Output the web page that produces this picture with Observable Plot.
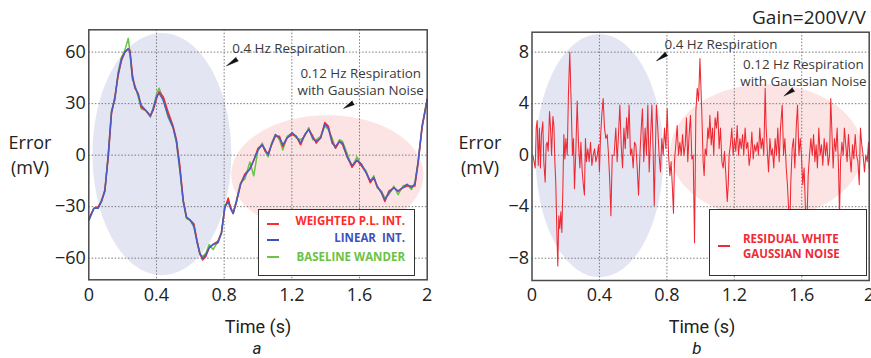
<!DOCTYPE html>
<html><head><meta charset="utf-8">
<script src="https://cdn.jsdelivr.net/npm/d3@7"></script>
<script src="https://cdn.jsdelivr.net/npm/@observablehq/plot@0.6"></script>
<style>
body{margin:0;background:#fff;}
#wrap{position:relative;width:871px;height:358px;font-family:"Open Sans",sans-serif;color:#222;overflow:hidden;background:#fff}
#wrap svg{position:absolute;top:0}
.lbl{position:absolute;white-space:nowrap;transform:translate(-50%,-50%);text-align:center;font-size:18px;line-height:18px;color:#222}
.two{line-height:25px}
.rb{font-family:Roboto,sans-serif}
.leg{position:absolute;box-sizing:border-box;border:1.5px solid #333;background:#fff}
.leg .t{position:absolute;font-weight:700;font-size:11.5px;line-height:14px;white-space:nowrap}
.leg .d{position:absolute;height:2px;width:12px}
</style></head><body><div id="wrap"></div>
<script>
// ---------- Panel a data ----------
const tA = [0,0.03,0.055,0.075,0.095,0.115,0.134,0.154,0.173,0.193,0.213,0.233,0.243,0.258,0.272,0.292,0.31,0.337,0.364,0.38,0.404,0.416,0.44,0.469,0.498,0.518,0.538,0.558,0.577,0.6,0.621,0.64,0.656,0.672,0.692,0.711,0.735,0.764,0.784,0.804,0.824,0.837,0.853,0.873,0.897,0.922,0.952,0.975,1.0,1.025,1.044,1.06,1.08,1.103,1.127,1.147,1.172,1.202,1.226,1.252,1.277,1.3,1.324,1.344,1.37,1.395,1.415,1.438,1.458,1.482,1.5,1.527,1.556,1.585,1.61,1.638,1.664,1.684,1.704,1.73,1.75,1.773,1.803,1.828,1.856,1.881,1.907,1.927,1.946,1.97,1.99,2.0];
const linearA = [-38,-31,-31,-27,-21,0,25,33,47,56,60,62,60,45,40,35,29,26,23,27,35,36,32,23,16,8,-8,-27,-36,-38,-41,-51,-57,-60,-58,-54,-52,-51,-45,-30,-27,-31,-34,-27,-17,-12,-8,-3,3,6,3,0,6,12,10,6,10,13,11,7,12,15,10,8,10,18,16,7,5,8,7,-1,-6,-3,-5,-10,-15,-13,-18,-22,-26,-22,-19,-21,-19,-17,-19,-17,-4,17,27,32];
const weightedA = [-37,-31,-30,-27,-20,-1,24,34,46,55,60,62,61,47,39,36,28,26,23,26,34,37,34,25,17,9,-6,-26,-36,-38,-40,-50,-57,-61,-59,-54,-52,-50,-45,-31,-25,-30,-34,-27,-17,-11,-8,-3,4,6,2,1,6,11,11,5,10,12,11,6,12,15,11,7,10,19,17,8,4,8,6,-1,-7,-3,-6,-10,-16,-13,-18,-22,-27,-21,-19,-21,-19,-18,-18,-18,-5,16,27,33];
const baselineA = [-38,-31,-31,-26,-21,1,26,32,48,57,61,68,60,44,41,34,27,26,22,27,37,39,32,22,16,7,-9,-27,-37,-38,-42,-50,-58,-59,-57,-52,-55,-50,-46,-29,-28,-30,-34,-26,-16,-14,-4,-12,3,7,2,-1,7,12,9,3,11,13,10,9,11,16,9,9,11,17,15,10,4,9,8,1,-7,-1,-6,-9,-16,-12,-19,-21,-25,-23,-18,-23,-18,-17,-20,-16,-4,17,28,32];

// ---------- Panel b data ----------
const tB = [0.005,0.019,0.025,0.031,0.037,0.044,0.050,0.056,0.064,0.070,0.078,0.084,0.090,0.096,0.104,0.110,0.116,0.124,0.130,0.135,0.141,0.147,0.153,0.159,0.165,0.171,0.177,0.183,0.189,0.195,0.201,0.209,0.216,0.224,0.232,0.240,0.246,0.252,0.260,0.268,0.276,0.284,0.290,0.298,0.303,0.311,0.317,0.323,0.331,0.339,0.347,0.355,0.363,0.371,0.379,0.387,0.395,0.400,0.406,0.414,0.422,0.430,0.438,0.446,0.454,0.462,0.468,0.476,
0.487,0.497,0.505,0.513,0.521,0.529,0.537,0.545,0.553,0.561,0.568,0.576,0.584,0.592,0.600,0.608,0.616,0.624,0.632,0.640,0.648,0.655,0.663,0.671,0.679,0.687,0.695,0.703,0.711,0.719,0.725,0.731,0.738,0.746,0.754,0.762,0.770,0.778,0.786,0.794,0.802,0.810,0.818,0.825,0.833,0.839,0.845,0.853,0.861,0.869,0.877,0.885,0.893,0.901,0.909,0.916,0.924,0.932,0.940,0.948,0.956,
0.964,0.972,0.980,0.988,0.996,
1.007,1.015,1.021,1.027,1.035,1.043,1.049,1.055,1.063,1.071,1.078,1.086,1.094,1.102,1.110,1.118,1.126,1.134,1.142,1.150,1.158,1.164,1.169,1.177,1.185,1.193,1.201,1.209,1.217,1.225,1.233,1.241,1.249,1.256,1.264,1.272,1.280,1.288,1.296,1.304,1.312,1.320,1.328,1.336,1.343,1.351,1.359,1.367,1.375,1.383,1.389,1.395,1.403,1.411,1.419,1.426,1.434,1.442,1.450,1.458,1.466,
1.474,1.484,1.492,1.500,1.508,1.515,1.523,1.529,1.535,1.543,1.551,1.559,1.567,1.575,1.583,1.591,1.598,1.606,1.614,1.622,1.630,1.638,1.646,1.654,1.662,1.670,1.678,1.685,1.693,1.701,1.709,1.717,1.725,1.733,1.741,1.749,1.757,1.765,1.772,1.778,1.786,1.794,1.802,1.810,1.818,1.824,1.830,1.838,1.846,1.853,1.861,1.869,1.877,1.885,1.893,1.901,1.909,1.917,1.925,1.933,1.941,1.948,1.956,1.964,1.972,1.980,1.988,1.996,2.0];
const residualB = [0,-1,2.1,2.7,-0.8,2.1,-1,1.6,2.6,-0.5,-2.1,0.8,1,0.3,3.4,2.1,0,3,2.3,-0.3,-2.1,-5.7,-8.6,-4.7,-5.7,-4.4,-6,-2.6,1.6,-0.3,1.3,0,4.7,8,4.2,0,1.3,-2.6,0.3,4.2,0.8,-1,1,-1.3,-2.1,-3.1,1.3,-0.5,0.5,-0.5,1,-0.8,0,0.5,-0.5,0,0.8,-1.3,1.3,3.1,4.4,2.1,1.3,1.6,0,-2.3,-4.7,0,
0,2.1,-0.5,1.6,3.9,0.8,-1,2.1,0.5,2.9,1.3,3.9,0,0.5,-1,1,0.8,-1,-3.1,0,2.1,3.6,-0.5,2.1,0,3.9,-1.3,1.3,3.9,0,-3.9,0,3.9,2.1,0,-1.3,1.3,0,2.1,0.5,3.6,0,-1.6,-0.5,-2.6,-4.5,-0.5,0.8,2.3,0,1,0,1.6,0,0.8,2.9,-0.5,1.6,3.1,-0.3,0,
-6.8,3.4,5.2,4.2,7.5,
3.4,-0.5,-1.6,0.5,0,2.1,1.3,3.1,0.8,2.1,0,2.9,2.1,3.4,0.5,2.1,-0.5,-1,0.3,-1.6,-3.6,-2.3,0,0.8,2.1,0,1.3,0.3,2.3,0,1.3,0.5,1.6,0,2.1,0.5,1,-0.8,0,1.8,-0.3,0.8,0.3,1,0,2.1,0.5,1.3,0,5.2,2.1,0.5,-1.3,1.3,0,0.5,-1,1.3,0,2.1,-0.5,
2.1,3.9,0,1.3,-1,-2.3,-4.4,-5.7,-2.1,0.5,1.3,-1,2.1,3.9,0,1.3,0,-2.3,-1,-4.2,-5.8,-1.6,0,1.3,0,1.6,-0.5,0.8,-1,2.1,0,0.8,-0.8,1.3,0,1,-0.8,0,4.4,2.1,-1,1.3,0.3,2.1,-1,-4.7,-0.5,1,0,2.1,0.8,-0.5,1.6,0,-1.3,0.8,-0.3,1.6,0,-0.5,-2.3,2.1,0.8,0,-1.3,0,-0.5,1,-1];

// ---------- ticks ----------
const xTicks = [0, 0.4, 0.8, 1.2, 1.6, 2];
const yTicksA = [-60, -30, 0, 30, 60];
const yTicksB = [-8, -4, 0, 4, 8];

// ---------- shaded regions (center / radii in data units) ----------
const regionsA = [
  {cx: 0.432, cy: 0.6, rx: 0.41, ry: 70.5, fill: "#e4e5f3"},
  {cx: 1.41, cy: -11.4, rx: 0.568, ry: 34.65, fill: "#fde4e4"}
];
const regionsB = [
  {cx: 0.40, cy: -0.04, rx: 0.379, ry: 9.44, fill: "#e4e5f3"},
  {cx: 1.39, cy: 0.32, rx: 0.569, ry: 5.19, fill: "#fde4e4"}
];

// ---------- annotations ----------
const notesA = [
  {x: 0.848, y: 62.5, text: "0.4 Hz Respiration", anchor: "start"},
  {x: 1.607, y: 43.1, text: "0.12 Hz Respiration\nwith Gaussian Noise", anchor: "middle"}
];
const notesB = [
  {x: 0.786, y: 8.64, text: "0.4 Hz Respiration", anchor: "start"},
  {x: 1.610, y: 6.46, text: "0.12 Hz Respiration\nwith Gaussian Noise", anchor: "middle"}
];
const wedgesA = [{x: 0.877, y: 55.9, rotate: 238, length: 16.5}, {x: 1.563, y: 30.5, rotate: 240, length: 14.6}];
const wedgesB = [{x: 0.798, y: 7.87, rotate: 235, length: 15.8}, {x: 1.551, y: 5.10, rotate: 236, length: 14.9}];

function ellipse(e) {
  return d3.range(0, 360, 3).map(a => ({x: e.cx + e.rx * Math.cos(a * Math.PI / 180), y: e.cy + e.ry * Math.sin(a * Math.PI / 180)}));
}
function series(t, v) { return t.map((x, i) => ({x, y: v[i]})); }

const gridStyle = {stroke: "#7a7a7a", strokeOpacity: 1, strokeWidth: 1, strokeDasharray: "1.5,1.8"};
const noteStyle = {fontSize: 13.4, fill: "#3a3a3a", lineHeight: 1.3};

function panel({width, ml, mr, mt, mb, ydom, yticks, regions, lines, notes, wedges}) {
  return Plot.plot({
    width, height: 358,
    marginLeft: ml, marginRight: mr, marginTop: mt, marginBottom: mb,
    x: {domain: [0, 2], ticks: xTicks, tickFormat: d => String(d), tickSize: 0, tickPadding: 8, label: null},
    y: {domain: ydom, ticks: yticks, tickSize: 0, tickPadding: 3, label: null},
    style: {fontFamily: "'Open Sans', sans-serif", fontSize: "18px", color: "#222", background: "transparent", overflow: "visible"},
    marks: [
      ...regions.map(e => Plot.line(ellipse(e), {x: "x", y: "y", fill: e.fill, stroke: "none", curve: "linear-closed"})),
      Plot.ruleX(xTicks.slice(1, -1), gridStyle),
      Plot.ruleY(yticks, gridStyle),
      ...lines.map(l => Plot.line(series(l.t, l.v), {x: "x", y: "y", stroke: l.color, strokeWidth: l.w, strokeOpacity: l.o || 1})),
      ...notes.map(n => Plot.text([n], {x: "x", y: "y", text: "text", textAnchor: n.anchor, ...noteStyle})),
      Plot.vector(wedges, {x: "x", y: "y", rotate: "rotate", length: "length", anchor: "start", shape: "spike", r: 2.2, fill: "#111", stroke: "#111", strokeWidth: 0.4}),
      Plot.frame({stroke: "#4a4a4a", strokeWidth: 1.5})
    ]
  });
}

const wrap = document.getElementById("wrap");

const svgA = panel({
  width: 440, ml: 88.3, mr: 13.3, mt: 29.3, mb: 78.7, ydom: [-72.6, 73], yticks: yTicksA,
  regions: regionsA, notes: notesA, wedges: wedgesA,
  lines: [
    {t: tA, v: baselineA, color: "#66c447", w: 1.5},
    {t: tA, v: weightedA, color: "#ff2323", w: 1.5},
    {t: tA, v: linearA, color: "#4a5cc8", w: 1.5}
  ]
});
svgA.style.left = "0px";
wrap.appendChild(svgA);

const svgB = panel({
  width: 431, ml: 91.5, mr: 2.3, mt: 31.7, mb: 78, ydom: [-9.73, 9.55], yticks: yTicksB,
  regions: regionsB, notes: notesB, wedges: wedgesB,
  lines: [{t: tB, v: residualB, color: "#ec2a34", w: 1.05}]
});
svgB.style.left = "440px";
wrap.appendChild(svgB);

function label(html, x, y, extra, cls) {
  const d = document.createElement("div");
  d.className = "lbl" + (cls ? " " + cls : "");
  d.innerHTML = html;
  d.style.left = x + "px"; d.style.top = y + "px";
  if (extra) Object.assign(d.style, extra);
  wrap.appendChild(d);
}
label("Error<br>(mV)", 30, 154.5, null, "two");
label("Error<br>(mV)", 480, 155, null, "two");
label("Time (s)", 258, 327, null, "rb");
label("a", 257, 347.6, {fontStyle: "italic", fontSize: "17px", lineHeight: "17px"}, "rb");
label("Time (s)", 702, 327, null, "rb");
label("b", 697, 347.6, {fontStyle: "italic", fontSize: "17px", lineHeight: "17px"}, "rb");
label("Gain=200V/V", 809, 17.3, {fontSize: "19px"});

function legend(box, items) {
  const d = document.createElement("div");
  d.className = "leg";
  Object.assign(d.style, {left: box.x + "px", top: box.y + "px", width: box.w + "px", height: box.h + "px"});
  for (const it of items) {
    if (it.dash) {
      const s = document.createElement("div");
      s.className = "d";
      Object.assign(s.style, {left: it.dash[0] + "px", top: it.dash[1] + "px", background: it.color});
      d.appendChild(s);
    }
    const t = document.createElement("div");
    t.className = "t";
    t.innerHTML = it.text;
    Object.assign(t.style, {top: it.top + "px", color: it.color}, it.pos);
    d.appendChild(t);
  }
  wrap.appendChild(d);
}
legend({x: 258, y: 209, w: 157, h: 67}, [
  {text: "WEIGHTED P.L. INT.", color: "#ff2b2b", top: 4.2, pos: {right: "9px"}, dash: [8, 13]},
  {text: "LINEAR&nbsp; INT.", color: "#3f52bb", top: 20.8, pos: {right: "9px"}, dash: [8, 28.5]},
  {text: "BASELINE WANDER", color: "#6cc245", top: 39.8, pos: {right: "9px"}, dash: [8, 46]}
]);
legend({x: 709, y: 209, w: 158, h: 67}, [
  {text: "RESIDUAL WHITE<br>GAUSSIAN NOISE", color: "#f02a36", top: 21, pos: {left: "33px", lineHeight: "15px"}, dash: [8, 34.5]}
]);
</script></body></html>
